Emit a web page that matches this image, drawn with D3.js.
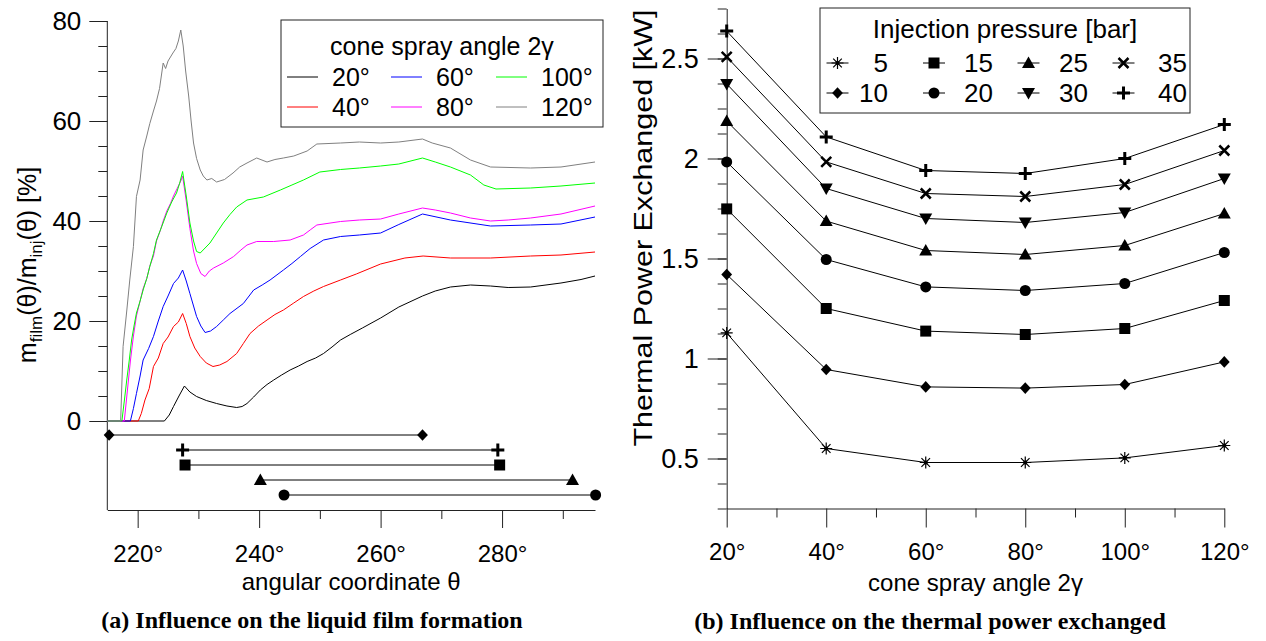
<!DOCTYPE html>
<html>
<head>
<meta charset="utf-8">
<script src="https://cdn.jsdelivr.net/npm/d3@7"></script>
<style>
  html, body { margin: 0; padding: 0; background: #fff; }
  svg { display: block; font-family: "Liberation Sans", Arial, sans-serif; }
  .caption { font-family: "Liberation Serif", "Times New Roman", serif; font-weight: bold; }
</style>
</head>
<body>
<svg id="chart" width="1266" height="641"></svg>
<script>
(function () {
  // ---- (a) liquid film mass fraction vs angular coordinate, one series per cone angle
  const filmLabels = ["20°", "40°", "60°", "80°", "100°", "120°"];
  const filmColors = ["#000000", "#ff0000", "#0000ff", "#ff00ff", "#00ff00", "#808080"];

  const film20 = [[215,0],[224.4,0],[225.2,1.2],[225.9,2.9],[226.8,5],[227.7,7],[228.6,5.8],[229.7,4.9],[231.3,4.1],[233,3.5],[234.7,3],[236.3,2.7],[237.2,2.9],[238,3.5],[239.1,4.8],[240.2,6.2],[241.3,7.3],[242.4,8.2],[243.7,9.2],[245.1,10.2],[246.5,11],[247.9,11.9],[249.3,12.6],[250.6,13.5],[252,14.8],[253.4,16.2],[255,17.3],[257,18.6],[260,20.6],[263,22.8],[266.9,25],[269,26],[271.5,26.8],[274.8,27.2],[278.1,27],[281,26.7],[284.7,26.8],[289.7,27.6],[293,28.3],[295.3,29]];
  const film40 = [[215,0],[220.1,0],[220.6,1.5],[221.2,4.2],[221.9,6.5],[222.6,10.9],[223.4,12.6],[224.2,15.5],[225,16.8],[225.9,18.9],[226.7,19.8],[227.4,21.5],[228,19.5],[228.6,16.9],[229.4,14.6],[230.3,12.9],[231.3,11.6],[232.4,10.9],[233.5,11.2],[234.7,11.9],[236.3,13.5],[237.4,15.5],[238.5,17.5],[239.9,19],[241.3,20.2],[242.6,21.3],[244,22.2],[245.7,23.6],[247.3,24.9],[249,26],[250.6,26.9],[253.4,28.2],[256,29.4],[260,31.4],[264,32.6],[267,33],[271.5,32.6],[278.1,32.6],[284.7,33],[289.7,33.2],[295.3,33.8]];
  const film60 = [[215,0],[218.8,0],[219.3,2.5],[219.8,5.5],[220.4,9],[220.9,12.2],[221.8,14.5],[222.6,16.9],[223.4,20],[224.2,22.9],[225,25],[225.9,27.5],[226.7,28.6],[227.4,30.2],[228,28],[228.6,25.5],[229.2,23],[229.7,20.9],[230.4,19],[231.1,17.7],[232,18],[233,18.9],[234.1,20.2],[235.2,21.5],[237.4,23.5],[239.1,26.2],[240.5,27.2],[241.8,28.2],[244,30.2],[245.4,31.5],[246.8,32.9],[248.4,34.5],[250.6,36.2],[253.4,36.9],[256.5,37.2],[260,37.6],[263,39.3],[266.9,41.4],[271.5,40.2],[278.1,39],[284.7,39.2],[289.7,39.4],[295.3,40.8]];
  const film80 = [[215,0],[217.8,0],[218.3,6],[218.8,12],[219.3,17],[219.8,21],[220.4,24],[220.9,26.5],[221.5,28.5],[222,31],[222.6,33],[223.1,36],[223.7,38],[224.2,40],[224.8,42],[225.4,43.5],[225.9,45],[226.5,46.5],[227.1,48],[227.4,49],[228,44],[228.6,38.5],[229.2,34],[229.7,31.5],[230.4,29.5],[231.1,28.9],[231.8,30],[232.5,30.6],[234.1,31.6],[235.8,32.9],[237,34.2],[238,35.2],[239.6,35.9],[242.4,35.9],[245.1,36.2],[247.3,37.2],[248.5,38.3],[249.5,39.2],[253.4,39.9],[256.5,40.2],[260,40.4],[263,41.4],[266.9,42.6],[269,42.2],[271.5,41.6],[274.8,40.6],[278.1,40],[281,40.2],[284.7,40.6],[289.7,41.4],[295.3,43]];
  const film100 = [[215,0],[217.4,0],[217.8,4],[218.2,8.2],[218.6,12],[219,16.2],[219.4,19],[219.8,21.6],[220.4,24],[220.9,26.2],[221.5,28.5],[222,30.9],[222.6,33.5],[223.1,36.2],[224,39],[224.8,41.6],[225.6,43.8],[226.4,45.6],[226.9,47.5],[227.4,49.9],[228,45],[228.6,39.6],[229.2,36],[229.7,33.9],[230.3,33.6],[231.1,34.6],[231.9,35.6],[233,37.6],[234.1,39.6],[235.2,41.3],[236.3,42.8],[238,44.2],[240.7,44.8],[243.5,46.2],[245.4,47.2],[247.3,48.2],[250,49.8],[253.4,50.3],[256.5,50.6],[260,51],[263,51.4],[266.9,52.6],[269,51.8],[271.5,50.8],[274.8,49.2],[277,47.2],[279,46.4],[284.7,46.6],[289.7,47],[295.3,47.6]];
  const film120 = [[215,0],[217.2,0],[217.6,14.9],[218.2,22],[218.7,28.2],[219.3,34.9],[219.8,44.9],[220.4,48.2],[220.9,54.2],[221.5,57],[222,59.5],[222.6,62],[223.1,64],[223.6,66.5],[224.2,71.6],[224.6,70.5],[225,72],[225.8,73.6],[226.3,74.5],[226.7,76],[227.1,78.2],[227.5,75],[227.9,70],[228.4,65],[228.8,60],[229.2,55.6],[229.7,52.5],[230.3,50.2],[230.8,49],[231.4,48.2],[232.2,48.5],[233,47.8],[234.3,48.3],[235.7,49.6],[236.8,50.8],[238,51.6],[239.6,52.6],[241.3,51.8],[242.6,52.3],[244,52.6],[245.7,53],[247.9,54],[249.5,55.4],[253.4,55.6],[256.5,55.8],[260,55.6],[263,55.8],[266.9,56.4],[268.5,55.6],[271.5,54.6],[274.8,52.2],[278.1,50.8],[284.7,50.6],[289.7,50.8],[295.3,51.8]];
  const filmSeries = [film20, film40, film60, film80, film100, film120];

  // injection interval bars under panel (a)
  const rangeShapes = ["diamond", "plus", "square", "triangle", "circle"];
  const rangeStart = [215.3, 227.4, 227.8, 240.2, 244.1];
  const rangeEnd = [266.9, 279.3, 279.6, 291.6, 295.4];

  const filmMajorTicksX = [220, 240, 260, 280];
  const filmMinorTicksX = [230, 250, 270, 290];
  const filmMajorTicksY = [0, 20, 40, 60, 80];

  // ---- (b) thermal power vs cone spray angle, one series per injection pressure
  const sprayAngles = [20, 40, 60, 80, 100, 120];
  const pressures = [5, 10, 15, 20, 25, 30, 35, 40];
  const pressureShapes = ["asterisk", "diamond", "square", "circle", "triangle", "triangleDown", "cross", "plus"];
  const power5 = [1.128, 0.55, 0.48, 0.48, 0.503, 0.565];
  const power10 = [1.42, 0.945, 0.858, 0.852, 0.87, 0.983];
  const power15 = [1.748, 1.25, 1.137, 1.12, 1.15, 1.29];
  const power20 = [1.983, 1.495, 1.358, 1.34, 1.375, 1.53];
  const power25 = [2.187, 1.687, 1.54, 1.52, 1.565, 1.725];
  const power30 = [2.373, 1.85, 1.7, 1.68, 1.73, 1.9];
  const power35 = [2.508, 1.983, 1.825, 1.81, 1.87, 2.04];
  const power40 = [2.637, 2.108, 1.94, 1.925, 2.0, 2.17];
  const powerSeries = [power5, power10, power15, power20, power25, power30, power35, power40];

  const powerMajorTicksY = [0.5, 1, 1.5, 2, 2.5];
  const powerMinorTicksY = d3.range(0.25, 2.76, 0.125);
  const powerMinorTicksX = [30, 50, 70, 90, 110];

  const svg = d3.select("#chart");
  const AXIS = "#222";

  function drawMarker(g, shape) {
    g.attr("fill", "#000").attr("stroke", "none");
    if (shape === "circle") {
      g.append("path").attr("d", d3.symbol(d3.symbolCircle, 95)());
    } else if (shape === "square") {
      g.append("path").attr("d", d3.symbol(d3.symbolSquare, 121)());
    } else if (shape === "triangle") {
      g.append("path").attr("d", "M0,-6.5L6.5,5L-6.5,5Z");
    } else if (shape === "triangleDown") {
      g.append("path").attr("d", "M0,6.5L6.5,-5L-6.5,-5Z");
    } else if (shape === "diamond") {
      g.append("path").attr("d", "M0,-5.8L5.4,0L0,5.8L-5.4,0Z");
    } else if (shape === "plus") {
      g.append("path").attr("d", "M-6.5,0H6.5M0,-6.5V6.5")
        .attr("stroke", "#000").attr("stroke-width", 3).attr("fill", "none");
    } else if (shape === "cross") {
      g.append("path").attr("d", "M-5,-5L5,5M-5,5L5,-5")
        .attr("stroke", "#000").attr("stroke-width", 2.5).attr("fill", "none");
    } else if (shape === "asterisk") {
      g.append("path").attr("d", "M-6,0H6M0,-6V6M-4.3,-4.3L4.3,4.3M-4.3,4.3L4.3,-4.3")
        .attr("stroke", "#000").attr("stroke-width", 1.2).attr("fill", "none");
      g.append("rect").attr("x", -1.8).attr("y", -1.8).attr("width", 3.6).attr("height", 3.6);
    }
  }

  function styleAxis(g) {
    g.selectAll("path, line").attr("stroke", AXIS).attr("stroke-width", 1);
    g.selectAll("text").attr("fill", "#000");
  }

  // ================= panel (a) =================
  const xL = d3.scaleLinear().domain([215, 295.3]).range([107.3, 595]);
  const yL = d3.scaleLinear().domain([0, 80]).range([421, 21]);
  const rowY = d3.scalePoint().domain(d3.range(rangeShapes.length)).range([435, 495]);
  const axisYL = 510;

  const left = svg.append("g");

  // y axis: minor then major ticks
  left.append("g").attr("transform", "translate(107.3,0)")
    .call(d3.axisLeft(yL).tickValues(d3.range(0, 81, 5)).tickSize(9).tickFormat(""))
    .call(g => g.select(".domain").remove())
    .call(styleAxis);
  left.append("g").attr("transform", "translate(107.3,0)")
    .call(d3.axisLeft(yL).tickValues(filmMajorTicksY).tickSize(18).tickPadding(8).tickFormat(d3.format("d")))
    .call(g => g.select(".domain").remove())
    .call(g => g.selectAll("text").attr("font-size", 26).attr("font-family", "Liberation Sans, Arial, sans-serif"))
    .call(styleAxis);
  left.append("line")
    .attr("x1", xL(215)).attr("x2", xL(215))
    .attr("y1", yL(80)).attr("y2", axisYL)
    .attr("stroke", AXIS);

  // x axis
  left.append("g").attr("transform", `translate(0,${axisYL})`)
    .call(d3.axisBottom(xL).tickValues(filmMinorTicksX).tickSize(9).tickSizeOuter(0).tickFormat(""))
    .call(styleAxis);
  left.append("g").attr("transform", `translate(0,${axisYL})`)
    .call(d3.axisBottom(xL).tickValues(filmMajorTicksX).tickSize(18).tickSizeOuter(0).tickFormat(d => d + "°"))
    .call(g => g.select(".domain").remove())
    .call(g => g.selectAll("text").attr("font-size", 24).attr("font-family", "Liberation Sans, Arial, sans-serif")
      .attr("y", 52).attr("dy", 0))
    .call(styleAxis);

  // curves
  const lineL = d3.line().x(d => xL(d[0])).y(d => yL(d[1]));
  left.append("g")
    .selectAll("path")
    .data(filmSeries)
    .join("path")
    .attr("d", lineL)
    .attr("fill", "none")
    .attr("stroke", (d, i) => filmColors[i])
    .attr("stroke-width", 1);

  // interval bars
  const bars = left.append("g");
  rangeShapes.forEach((shape, i) => {
    const y = rowY(i);
    bars.append("line")
      .attr("x1", xL(rangeStart[i])).attr("x2", xL(rangeEnd[i]))
      .attr("y1", y).attr("y2", y)
      .attr("stroke", "#000").attr("stroke-width", 1);
    [rangeStart[i], rangeEnd[i]].forEach(t => {
      drawMarker(bars.append("g").attr("transform", `translate(${xL(t)},${y})`), shape);
    });
  });

  // axis labels
  const yLab = left.append("text")
    .attr("transform", "translate(36,265) rotate(-90)")
    .attr("text-anchor", "middle")
    .attr("font-size", 25);
  yLab.append("tspan").text("m");
  yLab.append("tspan").attr("font-size", 17).attr("dy", 6).text("film");
  yLab.append("tspan").attr("dy", -6).text("(θ)/m");
  yLab.append("tspan").attr("font-size", 17).attr("dy", 6).text("inj");
  yLab.append("tspan").attr("dy", -6).text("(θ) [%]");

  left.append("text")
    .attr("x", (xL.range()[0] + xL.range()[1]) / 2).attr("y", 590)
    .attr("text-anchor", "middle").attr("font-size", 24)
    .text("angular coordinate θ");

  left.append("text").attr("class", "caption")
    .attr("x", 312).attr("y", 628)
    .attr("text-anchor", "middle").attr("font-size", 24)
    .text("(a) Influence on the liquid film formation");

  // legend (a)
  const legA = left.append("g");
  legA.append("rect").attr("x", 281).attr("y", 20).attr("width", 322).attr("height", 107)
    .attr("fill", "#fff").attr("stroke", AXIS);
  legA.append("text").attr("x", 442).attr("y", 55).attr("text-anchor", "middle")
    .attr("font-size", 25).text("cone spray angle 2γ");
  const legAColX = [287, 391, 496];
  const legARowY = [77, 107];
  filmLabels.forEach((lab, i) => {
    const cx = legAColX[Math.floor(i / 2)];
    const cy = legARowY[i % 2];
    legA.append("line").attr("x1", cx).attr("x2", cx + 31).attr("y1", cy).attr("y2", cy)
      .attr("stroke", filmColors[i]).attr("stroke-width", 1);
    legA.append("text").attr("x", cx + 45).attr("y", cy + 9).attr("font-size", 25).text(lab);
  });

  // ================= panel (b) =================
  const xR = d3.scaleLinear().domain([20, 120]).range([726.7, 1224.3]);
  const yR = d3.scaleLinear().domain([0.25, 2.75]).range([508.5, 8.5]);
  const right = svg.append("g");

  right.append("g").attr("transform", `translate(${xR(20)},0)`)
    .call(d3.axisLeft(yR).tickValues(powerMinorTicksY).tickSize(9).tickSizeOuter(0).tickFormat(""))
    .call(styleAxis);
  right.append("g").attr("transform", `translate(${xR(20)},0)`)
    .call(d3.axisLeft(yR).tickValues(powerMajorTicksY).tickSize(19).tickPadding(9).tickFormat(d => String(d)))
    .call(g => g.select(".domain").remove())
    .call(g => g.selectAll("text").attr("font-size", 27).attr("font-family", "Liberation Sans, Arial, sans-serif"))
    .call(styleAxis);

  right.append("g").attr("transform", `translate(0,${yR(0.25)})`)
    .call(d3.axisBottom(xR).tickValues(powerMinorTicksX).tickSize(9).tickSizeOuter(0).tickFormat(""))
    .call(styleAxis);
  right.append("g").attr("transform", `translate(0,${yR(0.25)})`)
    .call(d3.axisBottom(xR).tickValues(sprayAngles).tickSize(19).tickSizeOuter(0).tickFormat(d => d + "°"))
    .call(g => g.select(".domain").remove())
    .call(g => g.selectAll("text").attr("font-size", 24).attr("font-family", "Liberation Sans, Arial, sans-serif")
      .attr("y", 51).attr("dy", 0))
    .call(styleAxis);

  const lineR = d3.line().x((d, i) => xR(sprayAngles[i])).y(d => yR(d));
  right.append("g")
    .selectAll("path")
    .data(powerSeries)
    .join("path")
    .attr("d", lineR)
    .attr("fill", "none")
    .attr("stroke", "#000")
    .attr("stroke-width", 1);

  powerSeries.forEach((vals, s) => {
    vals.forEach((v, i) => {
      drawMarker(right.append("g").attr("transform", `translate(${xR(sprayAngles[i])},${yR(v)})`), pressureShapes[s]);
    });
  });

  right.append("text")
    .attr("transform", "translate(652,228) rotate(-90)")
    .attr("text-anchor", "middle").attr("font-size", 26)
    .attr("textLength", 437).attr("lengthAdjust", "spacingAndGlyphs")
    .text("Thermal Power Exchanged [kW]");

  right.append("text")
    .attr("x", (xR.range()[0] + xR.range()[1]) / 2).attr("y", 591)
    .attr("text-anchor", "middle").attr("font-size", 24)
    .text("cone spray angle 2γ");

  right.append("text").attr("class", "caption")
    .attr("x", 930).attr("y", 629)
    .attr("text-anchor", "middle").attr("font-size", 24)
    .text("(b) Influence on the thermal power exchanged");

  // legend (b)
  const legB = right.append("g");
  legB.append("rect").attr("x", 820).attr("y", 8).attr("width", 370).attr("height", 105)
    .attr("fill", "#fff").attr("stroke", AXIS);
  legB.append("text").attr("x", 1005).attr("y", 38).attr("text-anchor", "middle")
    .attr("font-size", 26).text("Injection pressure [bar]");
  const legBColX = [837.5, 934, 1028.5, 1123.5];
  const legBTextX = [888, 993, 1088, 1187];
  const legBRowY = [63, 93];
  pressures.forEach((p, i) => {
    const c = Math.floor(i / 2);
    const cy = legBRowY[i % 2];
    legB.append("line").attr("x1", legBColX[c] - 11).attr("x2", legBColX[c] + 11)
      .attr("y1", cy).attr("y2", cy).attr("stroke", "#000");
    drawMarker(legB.append("g").attr("transform", `translate(${legBColX[c]},${cy})`), pressureShapes[i]);
    legB.append("text").attr("x", legBTextX[c]).attr("y", cy + 9)
      .attr("text-anchor", "end").attr("font-size", 26).text(p);
  });
})();
</script>
</body>
</html>
